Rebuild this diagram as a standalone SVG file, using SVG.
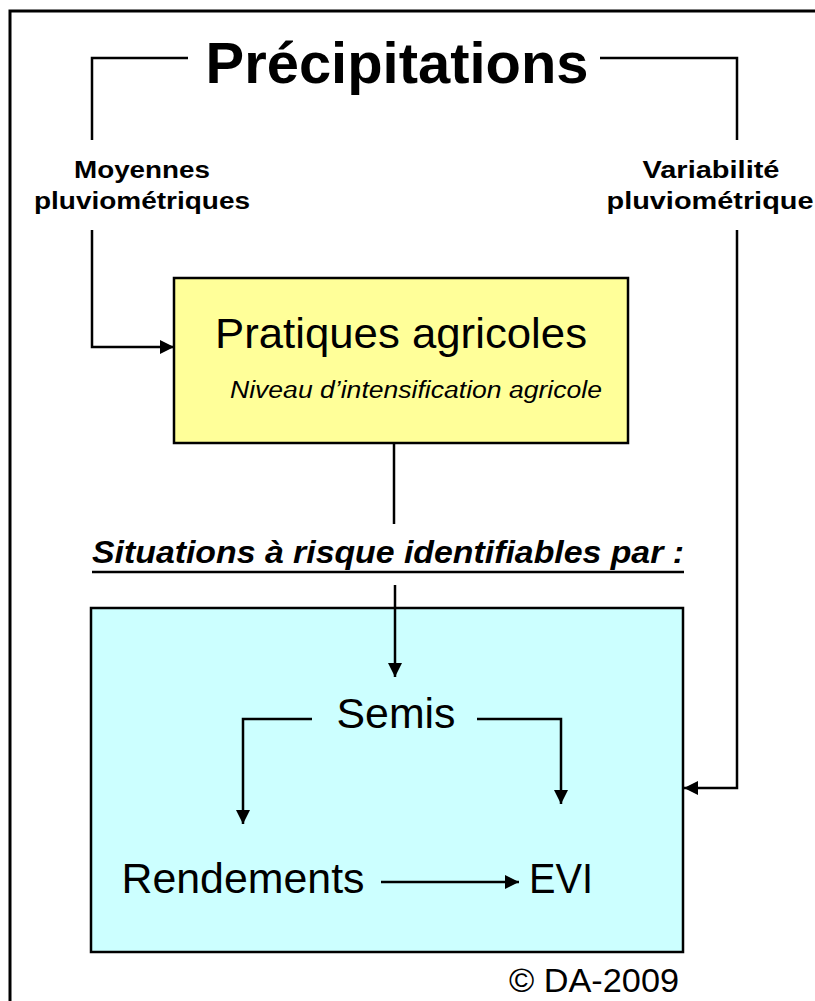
<svg xmlns="http://www.w3.org/2000/svg" width="815" height="1001" viewBox="0 0 815 1001">
<style>
.ln{fill:none;stroke:#000;stroke-width:2.5}
.t{font-family:"Liberation Sans",Arial,sans-serif;fill:#000;text-anchor:middle}
.b{font-weight:bold}
.i{font-style:italic}
</style>
<defs>
<marker id="ah" markerWidth="14" markerHeight="14" refX="14" refY="7" orient="auto" markerUnits="userSpaceOnUse">
<path d="M0,0 L14,7 L0,14 Z" fill="#000"/>
</marker>
</defs>
<rect width="815" height="1001" fill="#fff"/>
<rect id="frame" x="10" y="11" width="830" height="1010" fill="none" stroke="#000" stroke-width="3"/>

<g id="precipitations">
<text class="t b" x="397" y="83" font-size="57" textLength="383" lengthAdjust="spacingAndGlyphs">Précipitations</text>
</g>
<g id="moyennes">
<text class="t b" x="142" y="178" font-size="23" textLength="136" lengthAdjust="spacingAndGlyphs">Moyennes</text>
<text class="t b" x="142" y="209" font-size="23" textLength="216" lengthAdjust="spacingAndGlyphs">pluviométriques</text>
</g>
<g id="variabilite">
<text class="t b" x="711" y="178" font-size="23" textLength="137" lengthAdjust="spacingAndGlyphs">Variabilité</text>
<text class="t b" x="710" y="209" font-size="23" textLength="207" lengthAdjust="spacingAndGlyphs">pluviométrique</text>
</g>
<g id="pratiques">
<rect x="174" y="278" width="454" height="165" fill="#FFFF99" stroke="#000" stroke-width="2.5"/>
<text class="t" x="401" y="348" font-size="42" textLength="372" lengthAdjust="spacingAndGlyphs">Pratiques agricoles</text>
<text class="t i" x="416" y="398" font-size="23" textLength="372" lengthAdjust="spacingAndGlyphs">Niveau d’intensification agricole</text>
</g>
<g id="situations">
<text class="t b i" x="388" y="563" font-size="32" textLength="592" lengthAdjust="spacingAndGlyphs">Situations à risque identifiables par :</text>
<line x1="92" y1="572" x2="684" y2="572" stroke="#000" stroke-width="2.5"/>
</g>
<g id="risque-box">
<rect x="91" y="608" width="592" height="344" fill="#CCFFFF" stroke="#000" stroke-width="2.5"/>
</g>
<g id="semis">
<text class="t" x="396" y="728" font-size="42" textLength="119" lengthAdjust="spacingAndGlyphs">Semis</text>
</g>
<g id="rendements">
<text class="t" x="243" y="893" font-size="42" textLength="243" lengthAdjust="spacingAndGlyphs">Rendements</text>
</g>
<g id="evi">
<text class="t" x="561" y="893" font-size="42" textLength="64" lengthAdjust="spacingAndGlyphs">EVI</text>
</g>
<g id="copyright">
<text class="t" x="594" y="992" font-size="33" textLength="170" lengthAdjust="spacingAndGlyphs">© DA-2009</text>
</g>

<g id="connectors">
<polyline class="ln" points="188,58 92,58 92,140"/>
<polyline class="ln" points="600,58 737,58 737,140"/>
<polyline class="ln" points="92,230 92,347 174,347" marker-end="url(#ah)"/>
<polyline class="ln" points="737,230 737,788 684,788" marker-end="url(#ah)"/>
<line class="ln" x1="394" y1="443" x2="394" y2="524"/>
<line class="ln" x1="395" y1="585" x2="395" y2="677" marker-end="url(#ah)"/>
<polyline class="ln" points="312,719 243,719 243,824" marker-end="url(#ah)"/>
<polyline class="ln" points="477,719 561,719 561,804" marker-end="url(#ah)"/>
<line class="ln" x1="381" y1="882" x2="519" y2="882" marker-end="url(#ah)"/>
</g>
</svg>
